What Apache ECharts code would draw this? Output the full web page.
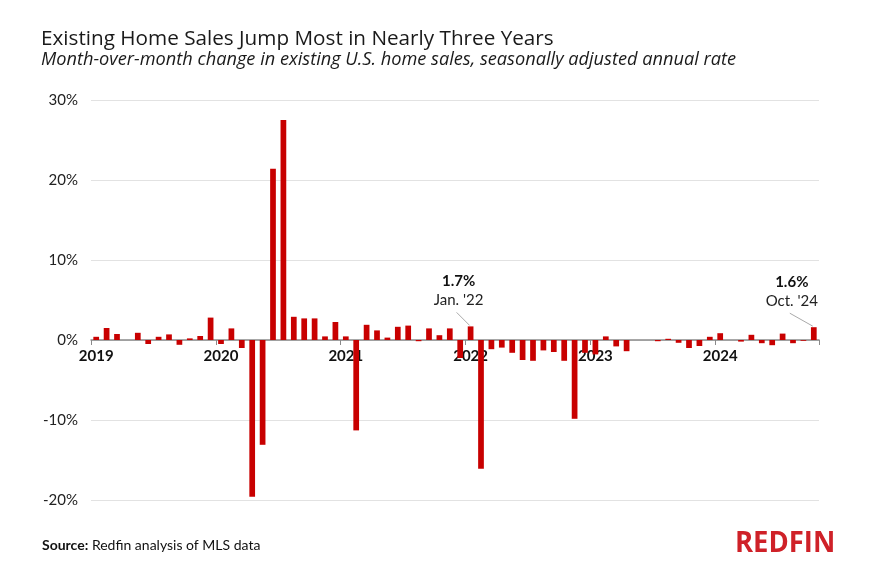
<!DOCTYPE html>
<html>
<head>
<meta charset="utf-8">
<script src="https://cdn.jsdelivr.net/npm/echarts@6/dist/echarts.min.js"></script>
<style>
  html, body { margin: 0; padding: 0; background: #fff; }
  #chart { width: 896px; height: 570px; }
</style>
</head>
<body>
<div id="chart"></div>
<script>
// ---- Data ----
const years = ['2019', '2020', '2021', '2022', '2023', '2024'];
const monthNames = ['Jan', 'Feb', 'Mar', 'Apr', 'May', 'Jun', 'Jul', 'Aug', 'Sep', 'Oct', 'Nov', 'Dec'];
const values2019 = [0.4, 1.5, 0.75, 0, 0.9, -0.5, 0.4, 0.7, -0.6, 0.2, 0.5, 2.8];
const values2020 = [-0.5, 1.45, -1.0, -19.6, -13.1, 21.4, 27.5, 2.9, 2.7, 2.7, 0.45, 2.25];
const values2021 = [0.45, -11.3, 1.9, 1.2, 0.3, 1.65, 1.8, -0.15, 1.45, 0.6, 1.45, -2.25];
const values2022 = [1.7, -16.1, -1.15, -0.95, -1.6, -2.5, -2.6, -1.3, -1.5, -2.6, -9.85, -1.6];
const values2023 = [-1.8, 0.45, -0.8, -1.4, 0, 0, -0.15, 0.15, -0.35, -1.0, -0.75, 0.4];
const values2024 = [0.85, 0, -0.2, 0.65, -0.4, -0.65, 0.8, -0.4, -0.1, 1.6];
const yTicks = [-20, -10, 0, 10, 20, 30];
const annotations = [
  { category: 'Jan 2022', value: '1.7%', label: "Jan. '22", dx: -12 },
  { category: 'Oct 2024', value: '1.6%', label: "Oct. '24", dx: -22 }
];

const allValues = [].concat(values2019, values2020, values2021, values2022, values2023, values2024);
const categories = [];
allValues.forEach((v, i) => {
  categories.push(monthNames[i % 12] + ' ' + years[Math.floor(i / 12)]);
});

const FONT = 'Lato, "Open Sans", sans-serif';
const WIDE = '"Open Sans", Lato, sans-serif';
const chart = echarts.init(document.getElementById('chart'), null, { renderer: 'canvas' });

const option = {
  animation: false,
  backgroundColor: '#ffffff',
  grid: { left: 91, right: 77, top: 100, bottom: 70, containLabel: false },
  title: [
    {
      text: 'Existing Home Sales Jump Most in Nearly Three Years',
      left: 41, top: 29, padding: 0,
      textStyle: { fontFamily: WIDE, fontSize: 20.7, fontWeight: 'normal', color: '#1a1a1a' }
    },
    {
      text: 'Month-over-month change in existing U.S. home sales, seasonally adjusted annual rate',
      left: 41, top: 51, padding: 0,
      textStyle: { fontFamily: WIDE, fontSize: 18.2, fontStyle: 'italic', fontWeight: 'normal', color: '#1a1a1a' }
    }
  ],
  xAxis: {
    type: 'category',
    data: categories,
    boundaryGap: true,
    position: 'bottom',
    offset: 0,
    axisLine: { show: true, onZero: true, lineStyle: { color: '#8a8a8a', width: 1.5 } },
    axisTick: {
      show: true, length: 5,
      interval: (i) => i % 12 === 0,
      lineStyle: { color: '#8a8a8a', width: 1 }
    },
    axisLabel: {
      interval: (i) => i % 12 === 0,
      formatter: (v) => v.split(' ')[1],
      fontFamily: FONT, fontSize: 15, fontWeight: 'bold', color: '#111',
      margin: 9
    },
    splitLine: { show: false }
  },
  yAxis: {
    type: 'value',
    min: yTicks[0], max: yTicks[yTicks.length - 1], interval: 10,
    axisLine: { show: false },
    axisTick: { show: false },
    axisLabel: {
      formatter: (v) => v + '%',
      fontFamily: FONT, fontSize: 15, color: '#222', margin: 13
    },
    splitLine: { show: true, lineStyle: { color: '#e2e2e2', width: 1 } }
  },
  series: [{
    type: 'bar',
    data: allValues,
    barWidth: '55%',
    itemStyle: { color: '#c80000' },
    z: 3
  }],
  graphic: []
};

chart.setOption(option);

// Put the category axis on the zero line (computed from the value scale)
const zeroY = chart.convertToPixel({ yAxisIndex: 0 }, 0);
const minY = chart.convertToPixel({ yAxisIndex: 0 }, yTicks[0]);
chart.setOption({ xAxis: { offset: zeroY - minY } });

// Annotations positioned from the data via the chart's scales
const g = [];
annotations.forEach((a) => {
  const idx = categories.indexOf(a.category);
  const val = allValues[idx];
  const p = chart.convertToPixel({ seriesIndex: 0 }, [idx, val]);
  const x = p[0], top = p[1];
  g.push({
    type: 'text', x: x + a.dx, y: top - 45,
    style: { text: a.value, fontFamily: FONT, fontSize: 15, fontWeight: 'bold', fill: '#111', align: 'center', verticalAlign: 'middle' }
  });
  g.push({
    type: 'text', x: x + a.dx, y: top - 26,
    style: { text: a.label, fontFamily: FONT, fontSize: 15, fill: '#222', align: 'center', verticalAlign: 'middle' }
  });
  g.push({
    type: 'line',
    shape: { x1: x + a.dx - 2, y1: top - 14, x2: x - 1, y2: top - 1 },
    style: { stroke: '#aaaaaa', lineWidth: 1 }
  });
});
g.push({
  type: 'text', left: 42, top: 538,
  style: {
    text: '{b|Source:} Redfin analysis of MLS data',
    rich: { b: { fontFamily: FONT, fontSize: 14, fontWeight: 'bold', fill: '#111' } },
    fontFamily: FONT, fontSize: 14, fill: '#111'
  }
});
g.push({
  type: 'text', x: 735, y: 530, scaleX: 0.98,
  style: { text: 'REDFIN', fontFamily: '"Open Sans", sans-serif', fontSize: 28, fontWeight: 'bold', fill: '#cf2128' }
});
chart.setOption({ graphic: g });
</script>
</body>
</html>
